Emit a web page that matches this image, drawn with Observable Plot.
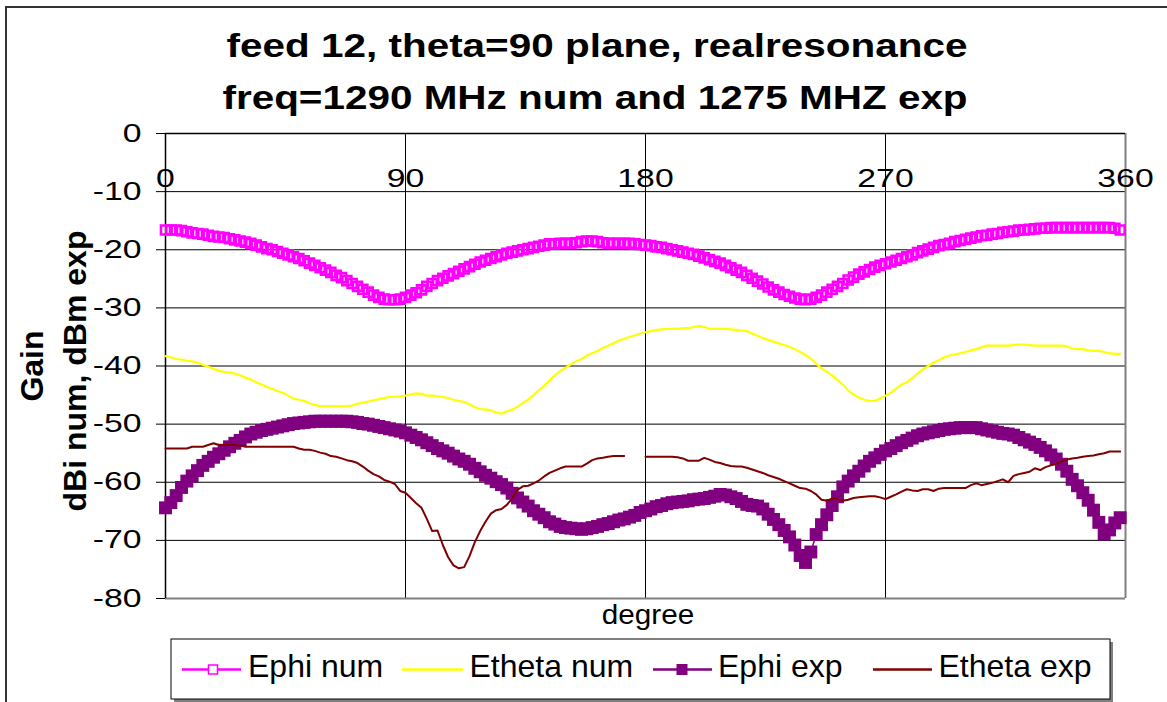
<!DOCTYPE html>
<html><head><meta charset="utf-8">
<script src="https://cdn.jsdelivr.net/npm/d3@7"></script>
<script src="https://cdn.jsdelivr.net/npm/@observablehq/plot@0.6"></script>
<style>
body{margin:0;background:#fff;}
#chart{width:1167px;height:702px;overflow:hidden;position:relative;}
</style></head><body><div id="chart"></div>
<script>
const titleLines = ["feed 12, theta=90 plane, realresonance", "freq=1290 MHz num and 1275 MHZ exp"];
const yLabelLines = ["Gain", "dBi num, dBm exp"];
const xLabel = "degree";
const seriesNames = ["Ephi num", "Etheta num", "Ephi exp", "Etheta exp"];
const seriesColors = ["#FF00FF", "#FFFF00", "#800080", "#800000"];
const xTicks = [0, 90, 180, 270, 360];
const yTicks = [0, -10, -20, -30, -40, -50, -60, -70, -80];

// sample angles (degrees), every 2 degrees from 0 to 358
const degrees = d3.range(0, 359, 2);

const ephiNum = [
-16.6,-16.6,-16.6,-16.7,-16.9,-17.1,-17.2,-17.3,-17.5,-17.7,
-17.8,-17.9,-18.1,-18.3,-18.5,-18.7,-18.9,-19.2,-19.5,-19.8,
-20.0,-20.3,-20.6,-20.9,-21.2,-21.5,-21.9,-22.3,-22.7,-23.1,
-23.5,-23.9,-24.4,-24.8,-25.3,-25.8,-26.3,-26.8,-27.3,-27.8,
-28.2,-28.5,-28.6,-28.6,-28.5,-28.2,-27.8,-27.4,-26.9,-26.3,
-25.8,-25.3,-24.9,-24.5,-24.1,-23.7,-23.3,-22.9,-22.5,-22.1,
-21.8,-21.5,-21.2,-20.9,-20.6,-20.4,-20.2,-20.0,-19.8,-19.6,
-19.4,-19.2,-19.0,-19.0,-18.9,-18.9,-18.9,-18.8,-18.6,-18.5,
-18.5,-18.6,-18.8,-18.9,-18.9,-18.9,-18.9,-18.9,-19.0,-19.1,
-19.2,-19.3,-19.5,-19.6,-19.8,-20.0,-20.2,-20.4,-20.6,-20.8,
-21.1,-21.4,-21.7,-22.0,-22.3,-22.7,-23.1,-23.5,-23.9,-24.4,
-24.9,-25.4,-25.9,-26.4,-26.9,-27.3,-27.7,-28.0,-28.3,-28.5,
-28.6,-28.5,-28.2,-27.8,-27.3,-26.8,-26.3,-25.8,-25.2,-24.7,
-24.2,-23.8,-23.4,-23.0,-22.7,-22.4,-22.1,-21.8,-21.5,-21.2,
-20.9,-20.5,-20.2,-19.9,-19.6,-19.3,-19.1,-18.9,-18.6,-18.4,
-18.2,-18.0,-17.8,-17.6,-17.5,-17.3,-17.2,-17.0,-16.9,-16.8,
-16.6,-16.6,-16.5,-16.4,-16.3,-16.3,-16.2,-16.2,-16.2,-16.2,
-16.2,-16.2,-16.2,-16.2,-16.2,-16.2,-16.2,-16.2,-16.3,-16.6
];

const ethetaNum = [
-38.3,-38.5,-38.8,-38.9,-39.1,-39.2,-39.4,-39.8,-40.1,-40.5,
-40.8,-41.0,-41.1,-41.3,-41.6,-42.0,-42.3,-42.8,-43.2,-43.6,
-43.9,-44.3,-44.6,-45.1,-45.6,-45.8,-46.0,-46.4,-46.7,-46.9,
-46.9,-46.9,-46.9,-46.9,-46.9,-46.8,-46.5,-46.3,-46.1,-45.9,
-45.7,-45.5,-45.3,-45.3,-45.2,-45.1,-44.9,-44.7,-44.8,-45.1,
-45.1,-45.2,-45.3,-45.5,-45.8,-46.0,-46.2,-46.6,-47.1,-47.4,
-47.5,-47.6,-48.0,-48.2,-47.8,-47.5,-47.0,-46.4,-45.8,-45.0,
-44.2,-43.4,-42.5,-41.6,-40.9,-40.3,-39.7,-39.2,-38.8,-38.2,
-37.8,-37.4,-36.9,-36.5,-36.1,-35.6,-35.3,-35.0,-34.7,-34.4,
-34.2,-34.0,-33.8,-33.7,-33.6,-33.6,-33.6,-33.5,-33.5,-33.3,
-33.1,-33.3,-33.6,-33.6,-33.6,-33.6,-33.7,-33.8,-33.9,-34.0,
-34.4,-34.8,-35.2,-35.5,-35.8,-36.1,-36.4,-36.7,-37.1,-37.6,
-38.1,-38.7,-39.6,-40.4,-41.0,-41.6,-42.4,-43.2,-44.2,-44.9,
-45.4,-45.8,-46.0,-46.0,-45.6,-45.1,-44.6,-43.9,-43.2,-42.8,
-42.1,-41.3,-40.6,-40.0,-39.4,-39.0,-38.5,-38.2,-38.0,-37.8,
-37.6,-37.3,-37.1,-36.8,-36.5,-36.5,-36.5,-36.5,-36.5,-36.4,
-36.3,-36.3,-36.4,-36.5,-36.5,-36.5,-36.5,-36.5,-36.5,-36.6,
-37.0,-37.1,-37.1,-37.3,-37.4,-37.4,-37.6,-37.8,-37.9,-37.9
];

const ephiExp = [
-64.4,-63.5,-62.3,-60.9,-59.8,-58.9,-58.0,-57.1,-56.4,-55.7,
-55.1,-54.5,-53.9,-53.3,-52.8,-52.2,-51.7,-51.4,-51.1,-50.9,
-50.7,-50.5,-50.3,-50.1,-49.9,-49.8,-49.7,-49.6,-49.5,-49.5,
-49.5,-49.5,-49.5,-49.5,-49.5,-49.6,-49.7,-49.9,-50.0,-50.2,
-50.4,-50.6,-50.8,-51.0,-51.2,-51.5,-51.9,-52.3,-52.7,-53.2,
-53.7,-54.2,-54.6,-55.0,-55.5,-56.0,-56.4,-56.9,-57.6,-58.2,
-58.8,-59.3,-59.9,-60.4,-61.0,-61.9,-62.7,-63.4,-64.1,-64.9,
-65.5,-66.1,-66.8,-67.2,-67.6,-67.8,-67.9,-68.0,-68.1,-68.0,
-67.8,-67.6,-67.3,-67.1,-66.8,-66.5,-66.3,-66.0,-65.7,-65.2,
-64.9,-64.6,-64.2,-64.0,-63.7,-63.5,-63.4,-63.3,-63.2,-63.0,
-62.9,-62.8,-62.6,-62.4,-62.1,-62.2,-62.5,-62.8,-63.3,-63.8,
-64.0,-64.1,-64.6,-65.5,-66.4,-67.3,-68.3,-69.4,-70.8,-72.6,
-73.8,-72.0,-69.0,-67.3,-65.6,-64.0,-62.5,-60.8,-59.8,-58.9,
-58.1,-57.2,-56.4,-55.8,-55.2,-54.6,-54.2,-53.7,-53.2,-52.8,
-52.4,-52.0,-51.7,-51.5,-51.3,-51.1,-50.9,-50.8,-50.7,-50.6,
-50.6,-50.6,-50.6,-50.8,-51.0,-51.2,-51.4,-51.6,-51.7,-51.9,
-52.3,-52.7,-53.1,-53.5,-54.0,-54.6,-55.3,-56.0,-56.9,-58.1,
-59.5,-60.6,-61.8,-63.1,-64.8,-66.9,-68.9,-68.2,-67.0,-66.1
];

const ethetaExp = [
-54.2,-54.2,-54.2,-54.2,-54.2,-53.9,-53.9,-53.9,-53.6,-53.3,
-53.6,-53.6,-53.6,-53.6,-53.7,-53.9,-53.9,-53.9,-53.9,-53.9,
-53.9,-53.9,-53.9,-53.9,-53.9,-54.2,-54.4,-54.4,-54.6,-54.9,
-55.1,-55.5,-55.6,-55.9,-56.2,-56.4,-56.7,-57.3,-58.0,-58.6,
-59.0,-59.6,-59.9,-60.3,-61.5,-61.8,-62.7,-63.6,-64.4,-66.3,
-68.4,-68.3,-70.8,-72.9,-74.3,-74.8,-74.6,-72.7,-70.3,-68.4,
-66.8,-65.4,-64.8,-64.6,-63.9,-62.8,-61.3,-60.7,-60.6,-60.2,
-59.7,-59.0,-58.4,-58.0,-57.6,-57.3,-57.3,-57.3,-57.3,-56.8,
-56.2,-55.9,-55.8,-55.6,-55.5,-55.5,-55.5,null,null,null,
-55.6,-55.6,-55.6,-55.6,-55.6,-55.6,-55.7,-55.9,-56.3,-56.3,
-56.3,-55.8,-56.1,-56.5,-56.7,-57.0,-57.2,-57.3,-57.3,-57.5,
-57.8,-58.1,-58.4,-58.8,-59.1,-59.4,-59.8,-60.2,-60.6,-61.0,
-61.1,-61.5,-62.1,-63.0,-63.2,-62.8,-62.9,-63.2,-63.0,-62.7,
-62.6,-62.5,-62.4,-62.4,-62.6,-62.9,-62.5,-62.1,-61.6,-61.2,
-61.4,-61.5,-61.2,-61.2,-61.5,-61.1,-61.0,-61.0,-61.0,-61.0,
-61.0,-60.5,-60.2,-60.5,-60.3,-60.1,-59.8,-59.5,-60.0,-58.9,
-58.6,-58.4,-58.2,-57.6,-57.9,-57.4,-57.1,-56.8,-56.4,-56.1,
-55.9,-55.8,-55.6,-55.5,-55.4,-55.2,-55.0,-54.7,-54.7,-54.7
];

const FONT = "'Liberation Sans', Arial, Helvetica, sans-serif";
const rows = vals => degrees.map((d, i) => ({deg: d, val: vals[i]}));

const svg = Plot.plot({
  width: 1167, height: 702,
  marginLeft: 165, marginRight: 42, marginTop: 133, marginBottom: 104,
  style: {fontFamily: FONT, background: "white", color: "#000", overflow: "visible"},
  x: {domain: [0, 360], axis: null},
  y: {domain: [-80, 0], label: null},
  marks: [
    Plot.gridY(yTicks.filter(v => v < 0 && v > -80), {stroke: "#000", strokeOpacity: 1, strokeWidth: 1}),
    Plot.gridX([90, 180, 270], {stroke: "#000", strokeOpacity: 1, strokeWidth: 1}),
    Plot.ruleY([-80], {stroke: "#808080", strokeWidth: 2}),
    Plot.ruleX([360], {stroke: "#808080", strokeWidth: 2}),
    Plot.axisY(yTicks, {tickSize: 9, tickPadding: 15, fontSize: 25, label: null, tickFormat: d => String(d), stroke: "#000", fill: "#000"}),
    Plot.ruleY([0], {stroke: "#000", strokeWidth: 1.5}),
    Plot.ruleX([0], {stroke: "#000", strokeWidth: 1.5}),
    Plot.text(xTicks, {x: d => d, y: 0, dy: 45, text: d => String(d), fontSize: 25, fill: "#000"}),
    Plot.dot(rows(ephiNum), {x: "deg", y: "val", symbol: "square", r: 5.1, stroke: seriesColors[0], fill: "none", strokeWidth: 2.6}),
    Plot.line(rows(ethetaNum), {x: "deg", y: "val", stroke: seriesColors[1], strokeWidth: 2.2}),
    Plot.line(rows(ephiExp), {x: "deg", y: "val", stroke: seriesColors[2], strokeWidth: 1.5}),
    Plot.dot(rows(ephiExp), {x: "deg", y: "val", symbol: "square", r: 7.3, fill: seriesColors[2], stroke: "none"}),
    Plot.line(rows(ethetaExp), {x: "deg", y: "val", stroke: seriesColors[3], strokeWidth: 2})
  ]
});
document.getElementById("chart").appendChild(svg);

const root = d3.select(svg);
function scaleText(el, s) {
  const t = el.getAttribute("transform");
  if (t) el.setAttribute("transform", t + ` scale(${s},1)`);
}
root.selectAll('g[aria-label="y-axis tick label"] text').each(function() { scaleText(this, 1.35); });
root.selectAll('g[aria-label="text"] text').each(function() { scaleText(this, 1.35); });

// titles
const tg = root.append("g").attr("font-family", FONT).attr("font-weight", "bold").attr("font-size", 34).attr("text-anchor", "middle").attr("fill", "#000");
tg.append("text").attr("transform", "translate(597,57) scale(1.19,1)").text(titleLines[0]);
tg.append("text").attr("transform", "translate(595,109) scale(1.19,1)").text(titleLines[1]);

// y-axis title
const yg = root.append("g").attr("font-family", FONT).attr("font-weight", "bold").attr("font-size", 32).attr("text-anchor", "middle").attr("fill", "#000");
yg.append("text").attr("transform", "translate(43,366) rotate(-90)").text(yLabelLines[0]);
yg.append("text").attr("transform", "translate(86,371) rotate(-90)").text(yLabelLines[1]);

// x-axis title
root.append("text").attr("font-family", FONT).attr("font-size", 28).attr("text-anchor", "middle")
  .attr("transform", "translate(648,624) scale(1.06,1)").text(xLabel);

// legend
const lg = root.append("g").attr("font-family", FONT).attr("text-anchor", "start");
lg.append("rect").attr("x", 174).attr("y", 642).attr("width", 939).attr("height", 60).attr("fill", "#808080");
lg.append("rect").attr("x", 171).attr("y", 639).attr("width", 939).attr("height", 60).attr("fill", "#fff").attr("stroke", "#000").attr("stroke-width", 1);
const ly = 669.5;
const legendItems = [
  {x1: 182, x2: 241, tx: 248},
  {x1: 402, x2: 463, tx: 469.5},
  {x1: 653, x2: 712, tx: 718},
  {x1: 873, x2: 932, tx: 938.5}
];
legendItems.forEach((it, i) => {
  lg.append("line").attr("x1", it.x1).attr("x2", it.x2).attr("y1", ly).attr("y2", ly).attr("stroke", seriesColors[i]).attr("stroke-width", 2.5);
  lg.append("text").attr("x", it.tx).attr("y", 677).attr("font-size", 32).attr("fill", "#000").attr("text-anchor", "start").text(seriesNames[i]);
});
lg.append("rect").attr("x", 208.5).attr("y", ly - 4.5).attr("width", 9).attr("height", 9).attr("fill", "#fff").attr("stroke", seriesColors[0]).attr("stroke-width", 1.5);
lg.append("rect").attr("x", 676.5).attr("y", ly - 5.5).attr("width", 11).attr("height", 11).attr("fill", seriesColors[2]);

// outer chart border
root.append("rect").attr("x", 6).attr("y", 7).attr("width", 1300).attr("height", 900).attr("fill", "none").attr("stroke", "#333").attr("stroke-width", 2);
</script>
</body></html>
